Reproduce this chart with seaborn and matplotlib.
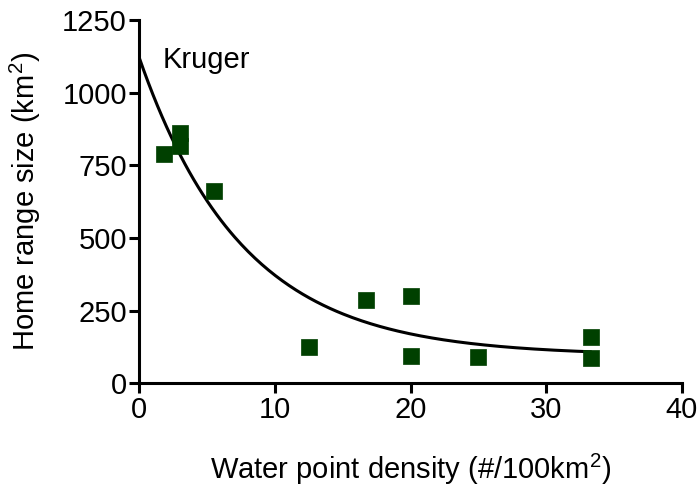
import numpy as np
import pandas as pd
import matplotlib
matplotlib.use("Agg")
import matplotlib.pyplot as plt
import seaborn as sns

# Data
water_density = [1.8, 3.0, 3.0, 5.5, 12.5, 16.7, 20.0, 20.0, 25.0, 33.3, 33.3]
home_range = [790, 860, 815, 660, 125, 285, 300, 95, 90, 160, 88]

# One-phase decay fit parameters
fit_y0 = 1120
fit_plateau = 95
fit_k = 0.131
fit_xmax = 33.3

x_ticks = [0, 10, 20, 30, 40]
y_ticks = [0, 250, 500, 750, 1000, 1250]

sns.set_theme(style="ticks")
plt.rcParams['font.family'] = ['Liberation Sans', 'DejaVu Sans']
plt.rcParams['mathtext.fontset'] = 'custom'
plt.rcParams['mathtext.rm'] = 'Liberation Sans'
plt.rcParams['text.color'] = 'black'
plt.rcParams['axes.labelcolor'] = 'black'

df = pd.DataFrame({"x": water_density, "y": home_range})
xs = np.linspace(0, fit_xmax, 200)
curve = pd.DataFrame({"x": xs, "y": fit_plateau + (fit_y0 - fit_plateau) * np.exp(-fit_k * xs)})

fig = plt.figure(figsize=(7, 4.9), dpi=100)
ax = fig.add_axes([0.199, 0.218, 0.775, 0.741])

sns.lineplot(data=curve, x="x", y="y", ax=ax, color="black", linewidth=2.2, zorder=2)
sns.scatterplot(data=df, x="x", y="y", ax=ax, marker="s", s=140, color="#004000",
                edgecolor="#004000", linewidth=0.5, zorder=3)

ax.set_xlim(0, 40)
ax.set_ylim(0, 1250)
ax.set_xticks(x_ticks)
ax.set_yticks(y_ticks)
ax.tick_params(axis="both", labelsize=21, width=2.2, length=7, color="black", labelcolor="black", pad=2)
for s in ["left", "bottom"]:
    ax.spines[s].set_linewidth(2.2)
    ax.spines[s].set_color("black")
sns.despine(ax=ax)

ax.set_xlabel(r"Water point density (#/100km$\mathregular{^2}$)", fontsize=21, labelpad=20, color="black")
ax.set_ylabel(r"Home range size (km$\mathregular{^2}$)", fontsize=21, labelpad=14, color="black")
ax.text(1.7, 1112, "Kruger", fontsize=21, va="center", ha="left", color="black")

fig.savefig("out.png", dpi=100)
